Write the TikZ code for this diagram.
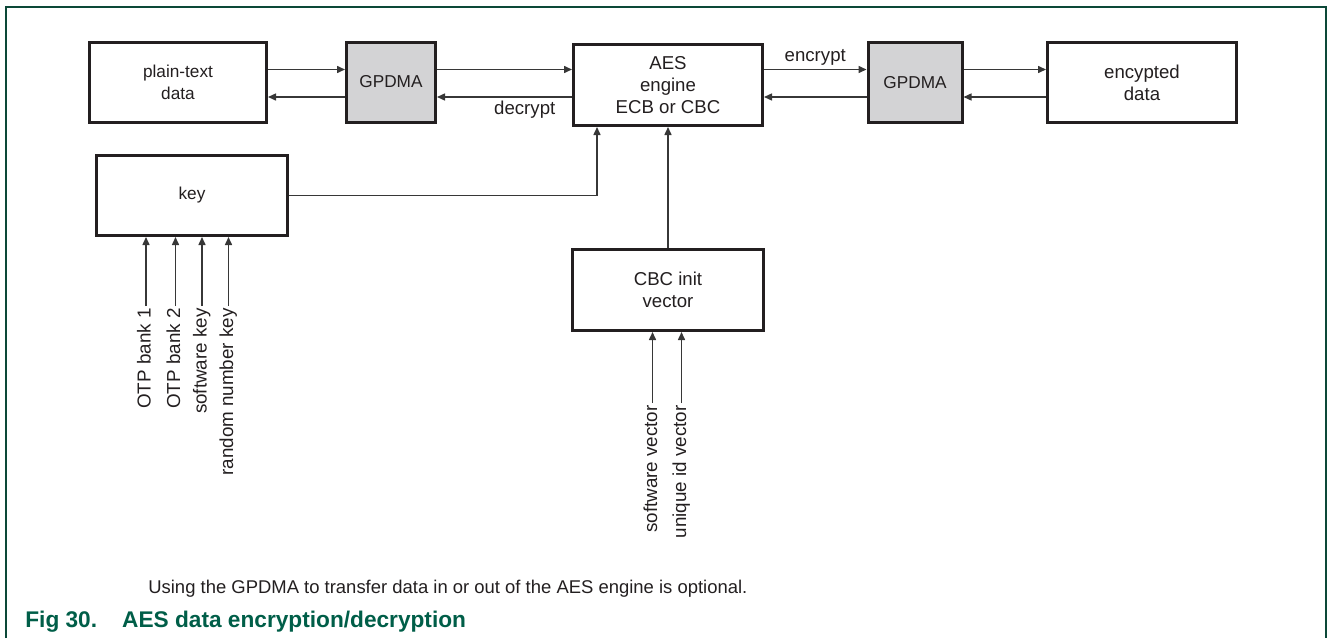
\documentclass[tikz,border=0pt]{standalone}
\usepackage{fontspec}
\setmainfont{Liberation Sans}
\usepackage{tikz}
\usetikzlibrary{
  arrows.meta,
  positioning,
  calc
}
\usepackage{xcolor}
\definecolor{inkdark}{RGB}{35,31,32}
\definecolor{linegray}{RGB}{55,55,55}
\definecolor{dmagray}{RGB}{211,211,213}
\definecolor{nxpgreen}{RGB}{0,94,72}
\definecolor{framegreen}{RGB}{12,72,56}

\begin{document}
\begin{tikzpicture}[
  font=\fontsize{10.6}{12.5}\selectfont, text=inkdark,
  block/.style={rectangle, draw=inkdark, line width=0.06cm, fill=white,
    minimum width=3.78cm, minimum height=1.6cm, align=center, inner sep=2pt},
  smalltext/.style={font=\fontsize{9.8}{12.5}\selectfont},
  dma/.style={block, smalltext, fill=dmagray, minimum width=1.78cm},
  flow/.style={draw=linegray, line width=0.03cm,
    -{Triangle[length=0.16cm, width=0.14cm]}},
  inlabel/.style={rotate=90, anchor=east, inner sep=0.04cm,
    font=\fontsize{10.7}{12.5}\selectfont, text height=0.73em, text depth=0.21em}
]
  \useasboundingbox (0,0) rectangle (26.56,-12.76);

  % Frame
  \draw[framegreen, line width=0.04cm]
    (0.12,-12.76) -- (0.12,-0.14) -- (26.52,-0.14) -- (26.52,-12.76);

  % Data path
  \node[block, smalltext, minimum width=3.54cm] (plain) at (3.56,-1.64) {plain-text\\data};
  \node[dma] (dmaL) at (7.82,-1.64) {GPDMA};
  \node[block, minimum height=1.62cm] (aes) at (13.36,-1.70) {AES\\engine\\ECB or CBC};
  \node[dma, minimum width=1.88cm] (dmaR) at (18.30,-1.65) {GPDMA};
  \node[block] (enc) at (22.84,-1.65) {encypted\\data};

  \coordinate (up) at (0,-1.39);
  \coordinate (dn) at (0,-1.94);

  \draw[flow] (plain.east |- up) -- (dmaL.west |- up);
  \draw[flow] (dmaL.west |- dn) -- (plain.east |- dn);
  \draw[flow] (dmaL.east |- up) -- (aes.west |- up);
  \draw[flow] (aes.west |- dn) -- node[below, pos=0.35, inner sep=2pt] {decrypt} (dmaL.east |- dn);
  \draw[flow] (aes.east |- up) -- node[above, inner sep=2pt] {encrypt} (dmaR.west |- up);
  \draw[flow] (dmaR.west |- dn) -- (aes.east |- dn);
  \draw[flow] (dmaR.east |- up) -- (enc.west |- up);
  \draw[flow] (enc.west |- dn) -- (dmaR.east |- dn);

  % Key
  \node[block, smalltext, minimum width=3.82cm] (key) at (3.84,-3.91) {key};
  \draw[flow] (key.east) -| ([xshift=-1.42cm]aes.south);

  \foreach \x/\name [count=\i] in {
    2.92/OTP bank 1,
    3.51/OTP bank 2,
    4.04/software key,
    4.57/random number key
  }{
    \node[inlabel] (src\i) at (\x,-6.12) {\name};
    \draw[flow] (src\i.east) -- (src\i.east |- key.south);
  }

  % CBC init vector
  \node[block, minimum width=3.82cm, minimum height=1.62cm] (cbc) at (13.36,-5.80)
    {CBC init\\vector};
  \draw[flow] (cbc.north) -- (cbc.north |- aes.south);

  \foreach \x/\name [count=\i] in {
    13.05/software vector,
    13.63/unique id vector
  }{
    \node[inlabel] (vec\i) at (\x,-8.06) {\name};
    \draw[flow] (vec\i.east) -- (vec\i.east |- cbc.south);
  }

  % Note and caption
  \node[anchor=base west, inner sep=0pt, font=\fontsize{10.5}{12.5}\selectfont] (note)
    at (2.96,-11.86)
    {Using the GPDMA to transfer data in or out of the AES engine is optional.};
  \node[anchor=base west, inner sep=0pt, text=nxpgreen,
    font=\fontsize{12.9}{15}\selectfont\bfseries]
    (caption) at (0.50,-12.54) {Fig 30.\hspace{0.5cm}AES data encryption/decryption};
\end{tikzpicture}
\end{document}
